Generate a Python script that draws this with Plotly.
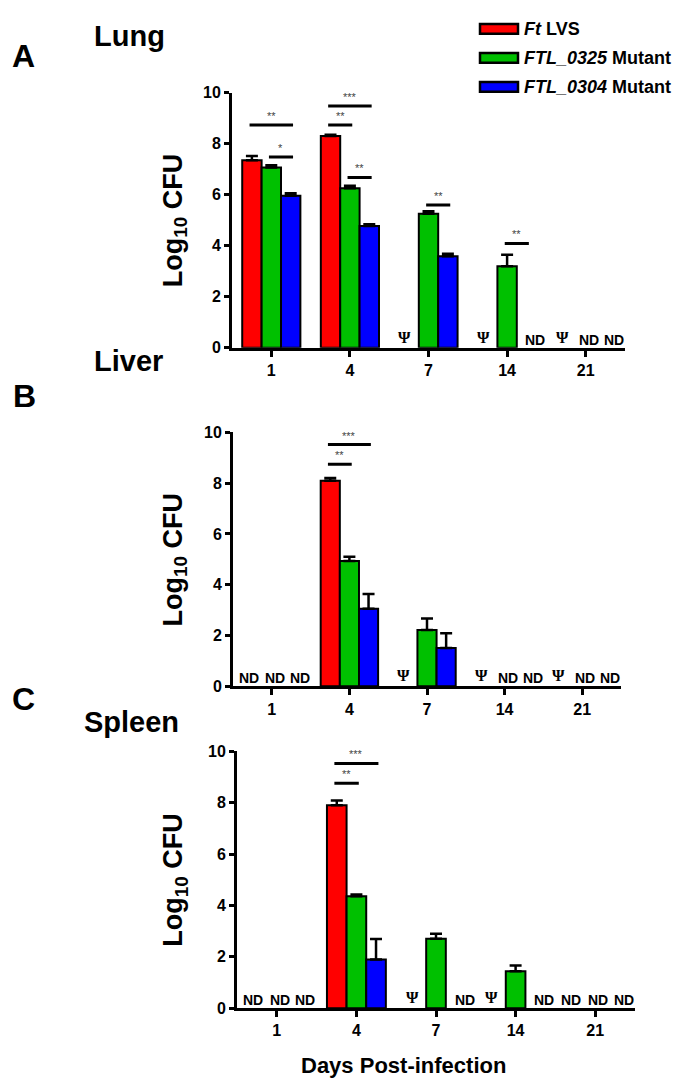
import plotly.graph_objects as go

W, H = 696, 1089

days = ["1", "4", "7", "14", "21"]
strain_names = ["<i>Ft</i> LVS", "<i>FTL_0325</i> Mutant", "<i>FTL_0304</i> Mutant"]
strain_colors = ["#ff0000", "#00c000", "#0000ff"]

# Lung - mean log10 CFU and SEM (None = psi / not detected)
lung_lvs = [7.35, 8.30, None, None, None]
lung_0325 = [7.07, 6.26, 5.26, 3.20, None]
lung_0304 = [5.96, 4.77, 3.59, None, None]
lung_lvs_err = [0.17, 0.05, 0, 0, 0]
lung_0325_err = [0.09, 0.09, 0.09, 0.45, 0]
lung_0304_err = [0.10, 0.07, 0.10, 0, 0]

# Liver
liver_lvs = [None, 8.10, None, None, None]
liver_0325 = [None, 4.94, 2.22, None, None]
liver_0304 = [None, 3.06, 1.51, None, None]
liver_lvs_err = [0, 0.10, 0, 0, 0]
liver_0325_err = [0, 0.16, 0.45, 0, 0]
liver_0304_err = [0, 0.58, 0.58, 0, 0]

# Spleen
spleen_lvs = [None, 7.90, None, None, None]
spleen_0325 = [None, 4.36, 2.71, 1.44, None]
spleen_0304 = [None, 1.90, None, None, None]
spleen_lvs_err = [0, 0.19, 0, 0, 0]
spleen_0325_err = [0, 0.07, 0.19, 0.22, 0]
spleen_0304_err = [0, 0.80, 0, 0, 0]

# (day index, strain index, label) for psi / ND marks on the baseline
lung_marks = [(2, 0, "Ψ"), (3, 0, "Ψ"), (3, 2, "ND"), (4, 0, "Ψ"), (4, 1, "ND"), (4, 2, "ND")]
liver_marks = [(0, 0, "ND"), (0, 1, "ND"), (0, 2, "ND"), (2, 0, "Ψ"), (3, 0, "Ψ"),
               (3, 1, "ND"), (3, 2, "ND"), (4, 0, "Ψ"), (4, 1, "ND"), (4, 2, "ND")]
spleen_marks = [(0, 0, "ND"), (0, 1, "ND"), (0, 2, "ND"), (2, 0, "Ψ"), (2, 2, "ND"),
                (3, 0, "Ψ"), (3, 2, "ND"), (4, 0, "ND"), (4, 1, "ND"), (4, 2, "ND")]

# (day index, strain a, strain b, bar height, stars)
lung_sig = [(0, 0, 2, 8.74, "**"), (0, 1, 2, 7.48, "*"), (1, 0, 2, 9.48, "***"),
            (1, 0, 1, 8.74, "**"), (1, 1, 2, 6.68, "**"), (2, 1, 2, 5.60, "**"),
            (3, 1, 2, 4.09, "**")]
liver_sig = [(1, 0, 2, 9.52, "***"), (1, 0, 1, 8.75, "**")]
spleen_sig = [(1, 0, 2, 9.53, "***"), (1, 0, 1, 8.76, "**")]

FONT = "Liberation Sans, Arial, sans-serif"
BARGAP = 0.26
BAR_W = (1 - BARGAP) / 3
MARK_OFFSETS = [-0.30, 0.04, 0.36]

# panel boxes in pixels: (x0, x1, y_top, y_bottom)
panels = [
    dict(box=(224, 617, 78, 337), values=(lung_lvs, lung_0325, lung_0304),
         errors=(lung_lvs_err, lung_0325_err, lung_0304_err),
         marks=lung_marks, sig=lung_sig),
    dict(box=(225, 613, 423, 681), values=(liver_lvs, liver_0325, liver_0304),
         errors=(liver_lvs_err, liver_0325_err, liver_0304_err),
         marks=liver_marks, sig=liver_sig),
    dict(box=(229, 627, 747, 1008), values=(spleen_lvs, spleen_0325, spleen_0304),
         errors=(spleen_lvs_err, spleen_0325_err, spleen_0304_err),
         marks=spleen_marks, sig=spleen_sig),
]

fig = go.Figure()
annotations = []
shapes = []

for p, panel in enumerate(panels):
    sfx = "" if p == 0 else str(p + 1)
    xref, yref = "x" + sfx, "y" + sfx
    x0, x1, yt, yb = panel["box"]
    for s in range(3):
        fig.add_trace(go.Bar(
            x=list(range(len(days))), y=panel["values"][s],
            xaxis=xref, yaxis=yref, name=strain_names[s], showlegend=False,
            marker=dict(color=strain_colors[s], line=dict(color="black", width=2)),
            error_y=dict(type="data", array=panel["errors"][s],
                         arrayminus=[0] * len(days), symmetric=False,
                         color="black", thickness=2.5, width=6),
        ))
    fig.update_layout(**{
        "xaxis" + sfx: dict(
            domain=[x0 / W, x1 / W], anchor=yref, range=[-0.5, 4.5],
            tickvals=list(range(len(days))), ticktext=days,
            showline=True, linecolor="black", linewidth=3,
            ticks="outside", ticklen=6, tickwidth=3, tickcolor="black",
            showgrid=False, zeroline=False,
            tickfont=dict(family=FONT, size=16, color="black", weight="bold"),
        ),
        "yaxis" + sfx: dict(
            domain=[1 - yb / H, 1 - yt / H], anchor=xref, range=[0, 10],
            dtick=2, showline=True, linecolor="black", linewidth=3,
            ticks="outside", ticklen=5, tickwidth=3, tickcolor="black",
            showgrid=False, zeroline=False,
            tickfont=dict(family=FONT, size=16, color="black", weight="bold"),
        ),
    })

    for d, s, label in panel["marks"]:
        psi = label == "Ψ"
        annotations.append(dict(
            x=d + MARK_OFFSETS[s], y=0, xref=xref, yref=yref,
            text=label, showarrow=False, yanchor="bottom", yshift=0 if psi else -2,
            font=dict(family="Liberation Serif, serif" if psi else FONT,
                      size=16 if psi else 14, color="black", weight="bold"),
        ))

    for d, a, b, h, stars in panel["sig"]:
        xa = d + (a - 1) * BAR_W - 0.03
        xb = d + (b - 1) * BAR_W + 0.03
        shapes.append(dict(type="line", xref=xref, yref=yref, x0=xa, x1=xb,
                           y0=h, y1=h, line=dict(color="black", width=3)))
        annotations.append(dict(
            x=(xa + xb) / 2, y=h, xref=xref, yref=yref, text=stars,
            showarrow=False, yanchor="bottom", yshift=1,
            font=dict(family=FONT, size=11, color="#444444"),
        ))

    # y-axis title
    annotations.append(dict(
        x=167 / W, y=1 - (yt + yb) / 2 / H, xref="paper", yref="paper",
        text="Log<sub>10</sub> CFU", textangle=-90, showarrow=False,
        xanchor="center", yanchor="middle",
        font=dict(family=FONT, size=27, color="black", weight="bold"),
    ))


def paper_text(text, x, y, size, xanchor="center"):
    annotations.append(dict(
        x=x / W, y=1 - y / H, xref="paper", yref="paper", text=text,
        showarrow=False, xanchor=xanchor, yanchor="middle",
        font=dict(family=FONT, size=size, color="black", weight="bold"),
    ))


paper_text("A", 15, 41, 32)
paper_text("Lung", 84, 20, 29, "left")
paper_text("B", 16, 386, 32)
paper_text("Liver", 84, 350, 29, "left")
paper_text("C", 15, 694, 32)
paper_text("Spleen", 74, 717, 29, "left")
paper_text("Days Post-infection", 395, 1066, 22)

# legend drawn by hand: coloured boxes with black border
for s, (name, color) in enumerate(zip(strain_names, strain_colors)):
    yc = 13 + 29.5 * s
    shapes.append(dict(type="rect", xref="paper", yref="paper",
                       x0=472 / W, x1=510 / W, y0=1 - (yc + 5) / H, y1=1 - (yc - 5) / H,
                       fillcolor=color, line=dict(color="black", width=2.5)))
    annotations.append(dict(
        x=514 / W, y=1 - yc / H, xref="paper", yref="paper", text=name,
        showarrow=False, xanchor="left", yanchor="middle",
        font=dict(family=FONT, size=18, color="black", weight="bold"),
    ))

fig.update_layout(
    width=W, height=H, margin=dict(l=0, r=0, t=0, b=0),
    paper_bgcolor="white", plot_bgcolor="white",
    barmode="group", bargap=BARGAP, bargroupgap=0,
    annotations=annotations, shapes=shapes, showlegend=False,
)

fig.write_html("out.html")
